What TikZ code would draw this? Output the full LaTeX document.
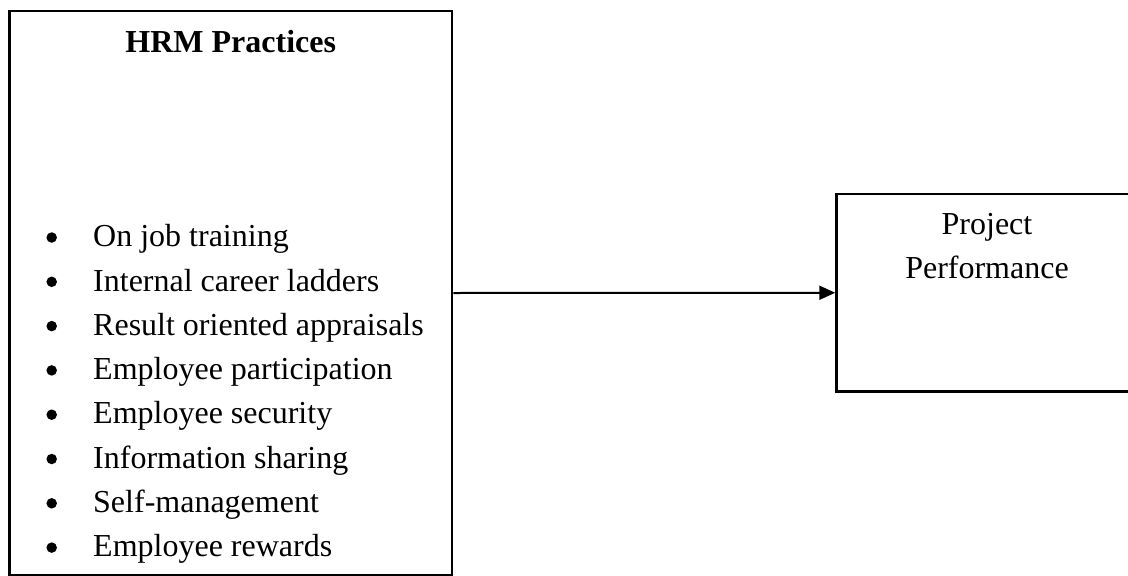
\documentclass[tikz,border=0pt]{standalone}
\usepackage{fontspec}
\setmainfont{Liberation Serif}
\usetikzlibrary{arrows.meta, positioning}

\tikzset{
  frame/.style={draw=black, line width=2.5pt, inner sep=0pt},
  txt/.style={inner sep=0pt, font=\fontsize{32}{44.3}\selectfont},
  item/.style={txt, anchor=base west},
  dot/.style={circle, fill=black, inner sep=0pt, minimum size=10.5pt},
  link/.style={line width=2pt, -{Triangle[length=16pt,width=14pt]}}
}

\begin{document}
\begin{tikzpicture}[x=1pt, y=-1pt]

% page
\useasboundingbox (0,0) rectangle (1128,576);
\clip (0,0) rectangle (1128,576);
\fill[white] (0,0) rectangle (1128,576);

% left box: practices
\node[frame, minimum width=442.5pt, minimum height=564pt] (hrm) at (230.75,293) {};
\node[txt, font=\fontsize{32}{44.3}\selectfont\bfseries, anchor=base] (title) at (230.75,52) {HRM Practices};

% bullet list
\foreach \label [count=\i] in {On job training, Internal career ladders,
    Result oriented appraisals, Employee participation, Employee security,
    Information sharing, Self-management, Employee rewards} {
  \node[dot] (dot\i) at (51.7,{237.5+44.3*(\i-1)}) {};
  \node[item] (item\i) at (93,{246.7+44.3*(\i-1)}) {\label};
}

% right box: outcome
\node[frame, minimum width=301pt, minimum height=197.5pt] (perf) at (987,292.75) {};
\node[txt, anchor=base] (perfA) at (987,234) {Project};
\node[txt, anchor=base] (perfB) at (987,278) {Performance};

% relation
\draw[link] (hrm.east) -- (perf.west);

\end{tikzpicture}
\end{document}
